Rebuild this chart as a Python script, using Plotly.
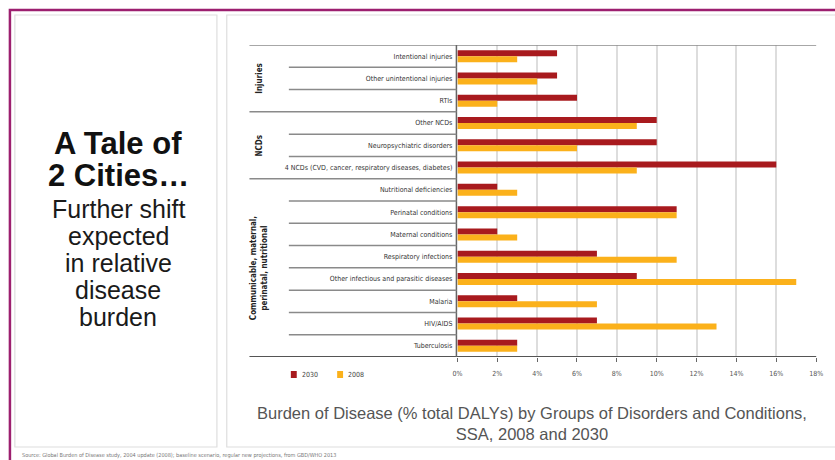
import plotly.graph_objects as go

W, H = 835, 460

# Disorder / condition categories, top to bottom
categories = [
    "Intentional injuries",
    "Other unintentional injuries",
    "RTIs",
    "Other NCDs",
    "Neuropsychiatric disorders",
    "4 NCDs (CVD, cancer, respiratory diseases, diabetes)",
    "Nutritional deficiencies",
    "Perinatal conditions",
    "Maternal conditions",
    "Respiratory infections",
    "Other infectious and parasitic diseases",
    "Malaria",
    "HIV/AIDS",
    "Tuberculosis",
]

# Share of total DALYs (%)
dalys_2030 = [5, 5, 6, 10, 10, 16, 2, 11, 2, 7, 9, 3, 7, 3]
dalys_2008 = [3, 4, 2, 9, 6, 9, 3, 11, 3, 11, 17, 7, 13, 3]

series_names = ["2030", "2008"]
series_colors = ["#A81A1E", "#FBB11B"]

# Disorder groups: (label, first row, last row)
groups = [
    ("Injuries", 0, 2),
    ("NCDs", 3, 5),
    ("Communicable, maternal,<br>perinatal, nutritional", 6, 13),
]

x_ticks = list(range(0, 19, 2))
x_tick_text = [f"{v}%" for v in x_ticks]

title_lines = ["A Tale of", "2 Cities…"]
subtitle_lines = ["Further shift", "expected", "in relative", "disease", "burden"]

NARROW = "Liberation Sans Narrow, DejaVu Sans Condensed, Arial Narrow, sans-serif"
SANS = "Liberation Sans, Arial, Helvetica, sans-serif"


def px(x):
    return x / W


def py(y):
    return 1 - y / H


fig = go.Figure()
for name, vals, col in zip(series_names, [dalys_2030, dalys_2008], series_colors):
    fig.add_trace(go.Bar(
        y=categories, x=vals, name=name, orientation="h",
        marker=dict(color=col, line=dict(width=0)),
        showlegend=False,
    ))

shapes = []
# slide frame and panels
shapes.append(dict(type="rect", xref="paper", yref="paper",
                   x0=px(10), x1=px(215), y0=py(447), y1=py(15),
                   line=dict(color="#dedede", width=1.2), fillcolor="white", layer="below"))
shapes.append(dict(type="rect", xref="paper", yref="paper",
                   x0=px(225), x1=px(845), y0=py(447), y1=py(15),
                   line=dict(color="#dedede", width=1.2), fillcolor="white", layer="below"))
shapes.append(dict(type="rect", xref="paper", yref="paper",
                   x0=px(5), x1=px(850), y0=py(480), y1=py(10),
                   line=dict(color="#9C1F6F", width=2.5)))

# table frame around the category labels
x_left_outer = px(248)
x_left_inner = px(288)
x_axis0 = px(458)
x_right = px(823)
n = len(categories)
shapes.append(dict(type="line", xref="paper", yref="y", x0=x_left_outer, x1=x_right,
                   y0=-0.5, y1=-0.5, line=dict(color="#8a8a8a", width=1.5)))
shapes.append(dict(type="line", xref="paper", yref="y", x0=x_left_outer, x1=x_right,
                   y0=n - 0.5, y1=n - 0.5, line=dict(color="#555555", width=2)))
shapes.append(dict(type="line", xref="paper", yref="y", x0=x_axis0, x1=x_axis0,
                   y0=-0.5, y1=n - 0.5, line=dict(color="#666666", width=1.5)))
group_ends = {g[2] for g in groups}
for i in range(n - 1):
    x0 = x_left_outer if i in group_ends else x_left_inner
    shapes.append(dict(type="line", xref="paper", yref="y", x0=x0, x1=x_axis0,
                       y0=i + 0.5, y1=i + 0.5, line=dict(color="#8a8a8a", width=1.5)))

annotations = []
for label, a, b in groups:
    annotations.append(dict(
        xref="paper", yref="y", x=px(258), y=(a + b) / 2, text=f"<b>{label}</b>",
        textangle=-90, showarrow=False, xanchor="center", yanchor="middle",
        font=dict(family=NARROW, size=8, color="#222222"),
    ))

# legend keys
leg_x = [290, 337]
for name, col, lx in zip(series_names, series_colors, leg_x):
    shapes.append(dict(type="rect", xref="paper", yref="paper",
                       x0=px(lx), x1=px(lx + 6), y0=py(378), y1=py(371),
                       fillcolor=col, line=dict(width=0)))
    annotations.append(dict(xref="paper", yref="paper", x=px(lx + 9), y=py(374.5),
                            text=name, showarrow=False, xanchor="left", yanchor="middle",
                            font=dict(family=NARROW, size=7, color="#444444")))

# left title block, one annotation per line
for line, yc in zip(title_lines, [143, 175]):
    annotations.append(dict(xref="paper", yref="paper", x=px(115), y=py(yc),
                            text=f"<b>{line}</b>", showarrow=False,
                            xanchor="center", yanchor="middle",
                            font=dict(family=SANS, size=31, color="#111111")))
for line, yc in zip(subtitle_lines, [209, 236, 263, 290, 317]):
    annotations.append(dict(xref="paper", yref="paper", x=px(115), y=py(yc),
                            text=line, showarrow=False,
                            xanchor="center", yanchor="middle",
                            font=dict(family=SANS, size=25, color="#1a1a1a")))

# caption under the chart
annotations.append(dict(xref="paper", yref="paper", x=px(535), y=py(423),
                        text="Burden of Disease (% total DALYs) by Groups of Disorders and Conditions,<br>SSA, 2008 and 2030",
                        showarrow=False, xanchor="center", yanchor="middle", align="center",
                        font=dict(family=SANS, size=16.5, color="#555555")))

# source line
annotations.append(dict(xref="paper", yref="paper", x=px(15), y=py(455),
                        text="Source: Global Burden of Disease study, 2004 update (2008); baseline scenario, regular new projections, from GBD/WHO 2013",
                        showarrow=False, xanchor="left", yanchor="middle",
                        font=dict(family=NARROW, size=5.5, color="#777777")))

fig.update_layout(
    width=W, height=H,
    margin=dict(l=0, r=0, t=0, b=0),
    paper_bgcolor="white", plot_bgcolor="rgba(0,0,0,0)",
    barmode="group", bargap=0.46, bargroupgap=0,
    shapes=shapes, annotations=annotations,
    showlegend=False,
    xaxis=dict(
        domain=[px(459), x_right], range=[0, 18],
        tickvals=x_ticks, ticktext=x_tick_text,
        showgrid=True, gridcolor="#dddddd", gridwidth=1.5,
        zeroline=False, showline=False,
        ticks="outside", ticklen=4, tickcolor="#666666", tickwidth=1,
        ticklabelstandoff=6,
        tickfont=dict(family=NARROW, size=7, color="#555555"),
        fixedrange=True,
    ),
    yaxis=dict(
        domain=[py(357), py(45)],
        range=[n - 0.5, -0.5],
        categoryorder="array", categoryarray=categories,
        showgrid=False, zeroline=False, showline=False, ticks="",
        ticklabelstandoff=4,
        tickfont=dict(family=NARROW, size=7, color="#333333"),
        fixedrange=True,
    ),
)

fig.write_html("out.html")
